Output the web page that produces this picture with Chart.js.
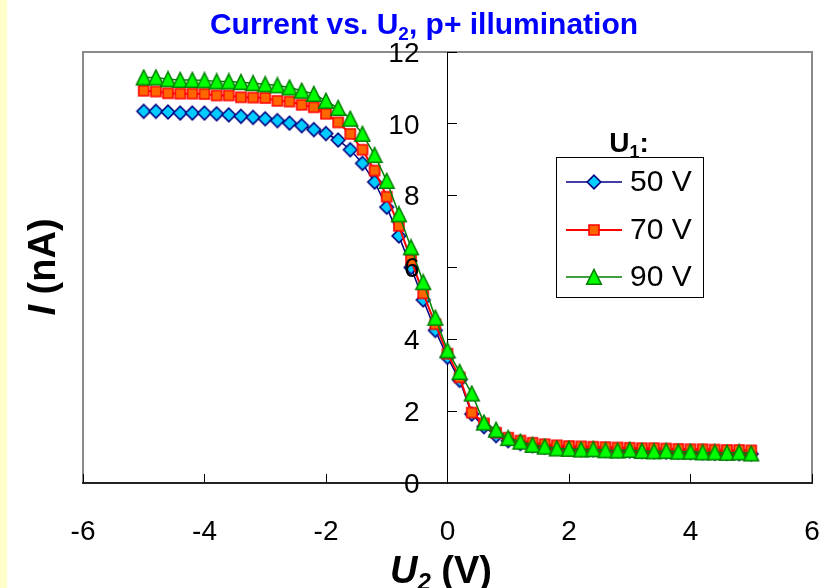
<!DOCTYPE html>
<html><head><meta charset="utf-8">
<script src="https://cdn.jsdelivr.net/npm/chart.js@4.4.0/dist/chart.umd.min.js"></script>
<style>html,body{margin:0;padding:0;background:#fff;}canvas{display:block;}</style>
</head><body>
<canvas id="c" width="834" height="588"></canvas>
<script>
const FONT = 'Arial, "Liberation Sans", Helvetica, sans-serif';

// ---- data ----
const u2Values = [-5,-4.8,-4.6,-4.4,-4.2,-4,-3.8,-3.6,-3.4,-3.2,-3,-2.8,-2.6,-2.4,-2.2,-2,-1.8,-1.6,-1.4,-1.2,-1,-0.8,-0.6,-0.4,-0.2,0,0.2,0.4,0.6,0.8,1,1.2,1.4,1.6,1.8,2,2.2,2.4,2.6,2.8,3,3.2,3.4,3.6,3.8,4,4.2,4.4,4.6,4.8,5];
const current50V = [10.35,10.35,10.33,10.30,10.30,10.30,10.28,10.25,10.21,10.18,10.14,10.09,10.02,9.95,9.84,9.73,9.55,9.28,8.90,8.38,7.68,6.88,6.00,5.10,4.25,3.50,2.86,1.92,1.57,1.32,1.18,1.10,1.04,1.00,0.97,0.95,0.93,0.92,0.91,0.90,0.89,0.88,0.87,0.86,0.86,0.85,0.84,0.83,0.83,0.82,0.81];
const current70V = [10.92,10.90,10.85,10.84,10.84,10.83,10.79,10.79,10.74,10.73,10.72,10.64,10.62,10.53,10.46,10.28,10.04,9.72,9.28,8.70,7.97,7.16,6.21,5.28,4.42,3.60,2.94,1.96,1.66,1.40,1.26,1.18,1.12,1.08,1.05,1.03,1.02,1.01,1.00,0.99,0.98,0.97,0.97,0.96,0.95,0.94,0.94,0.93,0.92,0.92,0.91];
const current90V = [11.29,11.29,11.24,11.22,11.22,11.21,11.18,11.18,11.16,11.13,11.10,11.07,11.01,10.92,10.83,10.64,10.44,10.14,9.72,9.13,8.41,7.48,6.56,5.59,4.60,3.69,3.09,2.49,1.68,1.48,1.25,1.15,1.06,1.01,0.96,0.95,0.93,0.94,0.91,0.90,0.92,0.89,0.88,0.89,0.87,0.87,0.85,0.85,0.84,0.85,0.82];
const seriesLabels = ['50 V', '70 V', '90 V'];
const xTicks = [-6,-4,-2,0,2,4,6];
const yTicks = [0,2,4,6,8,10,12];

function pts(ys){ return u2Values.map((x,i)=>({x:x, y:ys[i]})); }

// marker images (Excel-like shapes)
function makeMarker(shape, fill, edge){
  const c = document.createElement('canvas');
  const W = 18, H = 18; c.width = W; c.height = H;
  const g = c.getContext('2d');
  g.fillStyle = fill; g.strokeStyle = edge; g.lineWidth = 1.6; g.lineJoin = 'miter';
  g.beginPath();
  if (shape === 'diamond'){ g.moveTo(9,2.2); g.lineTo(15.8,9); g.lineTo(9,15.8); g.lineTo(2.2,9); g.closePath(); }
  else if (shape === 'square'){ g.rect(4,4,10,10); }
  else { g.moveTo(9,1.5); g.lineTo(16.3,16.2); g.lineTo(1.7,16.2); g.closePath(); }
  g.fill(); g.stroke();
  return c;
}

const styles = [
  {line:'#000080', lw:1.5, img: makeMarker('diamond', '#00CCFF', '#000080')},
  {line:'#FF0000', lw:2,   img: makeMarker('square',  '#FF6600', '#FF0000')},
  {line:'#008000', lw:1.5, img: makeMarker('triangle','#00FF00', '#008000')}
];
const values = [current50V, current70V, current90V];

const datasets = values.map((v,i)=>({
  label: seriesLabels[i],
  data: pts(v),
  borderColor: styles[i].line,
  borderWidth: styles[i].lw,
  backgroundColor: styles[i].line,
  pointStyle: styles[i].img,
  pointRadius: 8,
  tension: 0,
  order: 3 - i
}));

function drawRuns(ctx, runs, x, y, align){
  let total = 0;
  runs.forEach(r=>{ ctx.font = r.font; r.w = ctx.measureText(r.t).width; total += r.w; });
  let cx = align === 'center' ? x - total/2 : x;
  ctx.textAlign = 'left'; ctx.textBaseline = 'alphabetic';
  runs.forEach(r=>{ ctx.font = r.font; ctx.fillText(r.t, cx, y + (r.dy||0)); cx += r.w; });
}

const decor = {
  id: 'decor',
  beforeDraw(chart){
    const ctx = chart.ctx, a = chart.chartArea;
    ctx.save();
    ctx.fillStyle = '#fff'; ctx.fillRect(0,0,chart.width,chart.height);
    ctx.fillStyle = '#FFFFCC'; ctx.fillRect(0,0,7,chart.height);
    ctx.strokeStyle = '#8a8a8a'; ctx.lineWidth = 2;
    ctx.strokeRect(a.left, a.top, a.right - a.left, a.bottom - a.top);
    ctx.restore();
  },
  afterDraw(chart){
    const ctx = chart.ctx;
    ctx.save();
    // title
    ctx.fillStyle = '#0000FF';
    drawRuns(ctx, [
      {t:'Current vs. U', font:'bold 30px '+FONT},
      {t:'2', font:'bold 19px '+FONT, dy:6},
      {t:', p+ illumination', font:'bold 30px '+FONT}
    ], 424, 34, 'center');
    // x axis title
    ctx.fillStyle = '#000';
    drawRuns(ctx, [
      {t:'U', font:'italic bold 38px '+FONT},
      {t:'2', font:'italic bold 24px '+FONT, dy:7},
      {t:' (V)', font:'bold 38px '+FONT}
    ], 441, 583, 'center');
    // y axis title
    ctx.save();
    ctx.translate(55, 267); ctx.rotate(-Math.PI/2);
    drawRuns(ctx, [
      {t:'I', font:'italic bold 38px '+FONT},
      {t:' (nA)', font:'bold 38px '+FONT}
    ], 0, 0, 'center');
    ctx.restore();
    // legend
    const bx = 556, by = 157, bw = 147, bh = 140;
    ctx.fillStyle = '#fff'; ctx.fillRect(bx, by, bw, bh);
    ctx.strokeStyle = '#000'; ctx.lineWidth = 1; ctx.strokeRect(bx+0.5, by+0.5, bw, bh);
    ctx.fillStyle = '#000';
    drawRuns(ctx, [
      {t:'U', font:'bold 28px '+FONT},
      {t:'1', font:'bold 18px '+FONT, dy:6},
      {t:':', font:'bold 28px '+FONT}
    ], 629, 152, 'center');
    const rows = [182, 230, 277];
    chart.data.datasets.forEach((d,i)=>{
      const y = rows[i], s = styles[i];
      ctx.strokeStyle = s.line; ctx.lineWidth = s.lw;
      ctx.beginPath(); ctx.moveTo(566, y); ctx.lineTo(622, y); ctx.stroke();
      ctx.drawImage(s.img, 594 - 9, y - 9);
      ctx.fillStyle = '#000'; ctx.font = '30px '+FONT;
      ctx.textAlign = 'left'; ctx.textBaseline = 'middle';
      ctx.fillText(d.label, 630, y + 1);
    });
    ctx.restore();
  }
};

new Chart(document.getElementById('c'), {
  type: 'line',
  data: { datasets: datasets },
  options: {
    responsive: false,
    animation: false,
    layout: { padding: { left: 83, right: 22, top: 52, bottom: 0 } },
    plugins: { legend: { display: false }, title: { display: false }, tooltip: { enabled: false } },
    scales: {
      x: {
        type: 'linear', position: 'bottom', min: -6, max: 6,
        afterBuildTicks(s){ s.ticks = xTicks.map(v=>({value:v})); },
        ticks: { color:'#000', font:{family:FONT, size:28}, padding: 41, maxRotation: 0, autoSkip: false },
        grid: { display: true, drawOnChartArea: false, drawTicks: true, tickLength: -9, color: '#000', lineWidth: 1 },
        border: { display: true, color: '#222', width: 2 },
        afterFit(s){ s.height = 105; s.paddingLeft = 0; s.paddingRight = 0; }
      },
      y: {
        type: 'linear', position: 'center', min: 0, max: 12,
        afterBuildTicks(s){ s.ticks = yTicks.map(v=>({value:v})); },
        ticks: { color:'#000', font:{family:FONT, size:28}, padding: 38, autoSkip: false, labelOffset: 2, z: 1 },
        grid: { display: true, drawOnChartArea: false, drawTicks: true, tickLength: -10, color: '#000', lineWidth: 1 },
        border: { display: true, color: '#000', width: 1 },
        afterFit(s){ s.paddingTop = 0; s.paddingBottom = 0; }
      }
    }
  },
  plugins: [decor]
});
</script>
</body></html>
